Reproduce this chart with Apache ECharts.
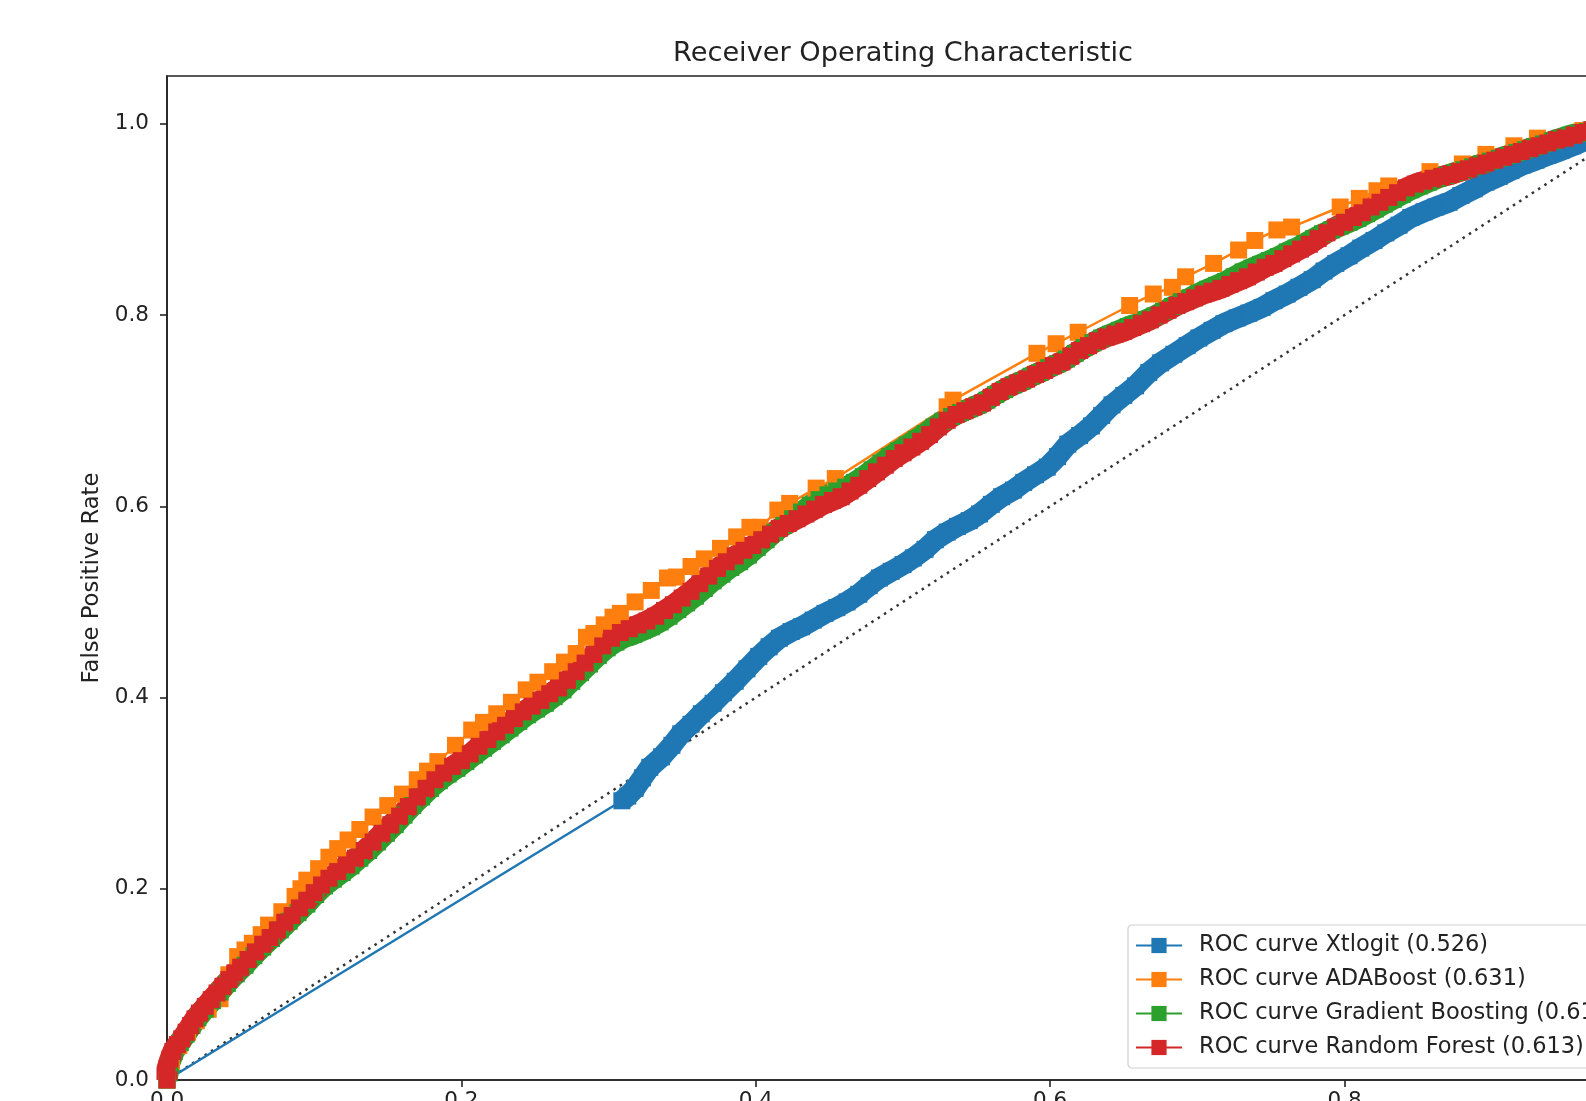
<!DOCTYPE html>
<html>
<head>
<meta charset="utf-8">
<script src="https://cdn.jsdelivr.net/npm/echarts@6/dist/echarts.min.js"></script>
<style>
  html, body { margin: 0; padding: 0; overflow: hidden; background: #fff; }
  #chart { width: 1806px; height: 1200px; }
</style>
</head>
<body>
<div id="chart"></div>
<script>
// ---- data ----
const titleText = 'Receiver Operating Characteristic';
const yAxisName = 'False Positive Rate';
const xTicks = [0, 0.2, 0.4, 0.6, 0.8, 1.0];
const yTicks = [0, 0.2, 0.4, 0.6, 0.8, 1.0];
const seriesNames = [
  'ROC curve Xtlogit (0.526)',
  'ROC curve ADABoost (0.631)',
  'ROC curve Gradient Boosting (0.617)',
  'ROC curve Random Forest (0.613)'
];
const chancePoints = [[0, 0], [1, 1]];

const xtlogitPoints = [[0,0],
[0.309,0.292],[0.313,0.297],[0.318,0.305],[0.323,0.316],[0.328,0.327],[0.336,0.338],[0.343,0.350],[0.349,0.362],[0.356,0.372],[0.363,0.383],[0.371,0.394],[0.378,0.405],[0.386,0.417],[0.394,0.430],[0.402,0.443],[0.409,0.453],[0.416,0.462],[0.424,0.469],[0.431,0.474],[0.439,0.481],[0.447,0.488],[0.455,0.494],[0.462,0.500],[0.470,0.508],[0.477,0.517],[0.484,0.525],[0.492,0.532],[0.500,0.539],[0.507,0.546],[0.515,0.555],[0.522,0.565],[0.530,0.573],[0.537,0.579],[0.545,0.585],[0.552,0.592],[0.560,0.602],[0.567,0.610],[0.575,0.617],[0.582,0.625],[0.590,0.633],[0.598,0.641],[0.605,0.652],[0.612,0.665],[0.620,0.674],[0.628,0.684],[0.635,0.695],[0.642,0.706],[0.650,0.716],[0.658,0.726],[0.667,0.740],[0.675,0.750],[0.684,0.759],[0.693,0.768],[0.701,0.776],[0.710,0.784],[0.718,0.791],[0.727,0.797],[0.735,0.802],[0.744,0.808],[0.752,0.815],[0.761,0.822],[0.769,0.829],[0.778,0.837],[0.786,0.846],[0.794,0.854],[0.803,0.862],[0.811,0.870],[0.820,0.878],[0.828,0.886],[0.837,0.894],[0.845,0.902],[0.854,0.908],[0.862,0.913],[0.871,0.918],[0.879,0.925],[0.888,0.932],[0.896,0.939],[0.905,0.945],[0.913,0.951],[0.921,0.957],[0.930,0.962],[0.938,0.967],[0.947,0.972],[0.955,0.977],[0.964,0.983],[0.972,0.988],[0.981,0.992],[0.990,0.996],[1.0,1.0]];

const adaBoostPoints = [[0,0],[0.003,0.02],[0.008,0.036],[0.014,0.05],[0.02,0.062],[0.028,0.074],[0.036,0.085],[0.042,0.11],[0.048,0.129],[0.053,0.136],[0.058,0.143],[0.064,0.152],[0.069,0.162],[0.078,0.176],[0.087,0.192],[0.091,0.200],[0.095,0.209],[0.103,0.221],[0.110,0.233],[0.116,0.242],[0.123,0.251],[0.131,0.262],[0.140,0.275],[0.150,0.287],[0.160,0.299],[0.170,0.314],[0.177,0.323],[0.184,0.333],[0.196,0.350],[0.207,0.366],[0.215,0.374],[0.224,0.383],[0.234,0.395],[0.244,0.408],[0.252,0.416],[0.262,0.427],[0.270,0.437],[0.278,0.446],[0.285,0.463],[0.290,0.467],[0.297,0.476],[0.303,0.484],[0.308,0.488],[0.318,0.500],[0.329,0.512],[0.340,0.525],[0.346,0.526],[0.356,0.537],[0.365,0.545],[0.376,0.556],[0.387,0.568],[0.396,0.578],[0.403,0.578],[0.415,0.596],[0.423,0.603],[0.441,0.619],[0.454,0.629],[0.530,0.704],[0.534,0.711],[0.591,0.760],[0.604,0.770],[0.619,0.782],[0.654,0.810],[0.670,0.822],[0.683,0.829],[0.692,0.840],[0.711,0.854],[0.728,0.868],[0.739,0.878],[0.754,0.889],[0.764,0.892],[0.797,0.913],[0.810,0.922],[0.822,0.930],[0.830,0.935],[0.858,0.950],[0.880,0.958],[0.896,0.968],[0.915,0.977],[0.931,0.985],[0.962,0.993],[1,1]];

const gradBoostPoints = [[0,0],[0.002,0.018],[0.005,0.030],[0.009,0.039],[0.013,0.048],[0.017,0.057],[0.021,0.065],[0.026,0.074],[0.031,0.083],[0.036,0.092],[0.041,0.101],[0.047,0.111],[0.053,0.120],[0.059,0.130],[0.065,0.139],[0.071,0.148],[0.077,0.157],[0.083,0.166],[0.089,0.175],[0.095,0.184],[0.101,0.194],[0.107,0.203],[0.113,0.210],[0.119,0.217],[0.125,0.224],[0.131,0.232],[0.137,0.240],[0.143,0.249],[0.149,0.258],[0.155,0.267],[0.161,0.277],[0.167,0.287],[0.173,0.296],[0.179,0.305],[0.185,0.313],[0.191,0.320],[0.197,0.326],[0.203,0.333],[0.209,0.340],[0.215,0.347],[0.221,0.354],[0.227,0.361],[0.233,0.368],[0.239,0.375],[0.245,0.382],[0.251,0.388],[0.257,0.394],[0.263,0.401],[0.269,0.408],[0.275,0.417],[0.281,0.426],[0.287,0.435],[0.293,0.444],[0.299,0.452],[0.305,0.458],[0.311,0.463],[0.317,0.466],[0.323,0.470],[0.329,0.474],[0.335,0.479],[0.341,0.485],[0.347,0.492],[0.353,0.499],[0.359,0.506],[0.365,0.514],[0.371,0.522],[0.377,0.529],[0.383,0.536],[0.389,0.542],[0.395,0.549],[0.401,0.557],[0.407,0.565],[0.413,0.573],[0.419,0.580],[0.425,0.587],[0.431,0.594],[0.437,0.601],[0.443,0.607],[0.449,0.612],[0.455,0.616],[0.461,0.620],[0.467,0.625],[0.473,0.631],[0.479,0.638],[0.485,0.645],[0.491,0.652],[0.497,0.658],[0.503,0.664],[0.509,0.670],[0.515,0.676],[0.521,0.683],[0.527,0.689],[0.533,0.694],[0.539,0.698],[0.545,0.702],[0.551,0.706],[0.557,0.711],[0.563,0.717],[0.569,0.722],[0.575,0.727],[0.581,0.731],[0.587,0.736],[0.593,0.740],[0.599,0.745],[0.605,0.749],[0.611,0.754],[0.617,0.760],[0.623,0.766],[0.629,0.771],[0.635,0.776],[0.641,0.780],[0.647,0.784],[0.653,0.788],[0.659,0.791],[0.665,0.795],[0.671,0.799],[0.677,0.804],[0.683,0.809],[0.689,0.814],[0.695,0.818],[0.701,0.823],[0.707,0.827],[0.713,0.831],[0.719,0.835],[0.725,0.840],[0.731,0.845],[0.737,0.849],[0.743,0.853],[0.749,0.857],[0.755,0.861],[0.761,0.866],[0.767,0.870],[0.773,0.875],[0.779,0.880],[0.785,0.885],[0.791,0.889],[0.797,0.893],[0.803,0.897],[0.809,0.901],[0.815,0.906],[0.821,0.911],[0.827,0.916],[0.833,0.921],[0.839,0.926],[0.845,0.931],[0.851,0.935],[0.857,0.939],[0.863,0.943],[0.869,0.946],[0.875,0.949],[0.881,0.952],[0.887,0.955],[0.893,0.958],[0.899,0.961],[0.905,0.964],[0.911,0.967],[0.917,0.970],[0.923,0.973],[0.929,0.976],[0.935,0.979],[0.941,0.982],[0.947,0.985],[0.953,0.988],[0.959,0.990],[0.965,0.992],[0.971,0.994],[0.977,0.996],[0.985,0.998],[0.993,0.999],[1,1]];

const randForestPoints = [[0,0],[0,0.012],[0.002,0.022],[0.004,0.030],[0.007,0.037],[0.010,0.043],[0.013,0.050],[0.016,0.057],[0.019,0.064],[0.022,0.070],[0.026,0.077],[0.030,0.084],[0.034,0.091],[0.038,0.098],[0.042,0.105],[0.046,0.112],[0.050,0.118],[0.055,0.126],[0.060,0.134],[0.065,0.142],[0.070,0.149],[0.075,0.157],[0.080,0.165],[0.085,0.172],[0.090,0.180],[0.095,0.188],[0.100,0.196],[0.105,0.204],[0.110,0.211],[0.116,0.218],[0.122,0.225],[0.128,0.232],[0.134,0.240],[0.140,0.249],[0.146,0.258],[0.152,0.267],[0.158,0.276],[0.164,0.286],[0.170,0.296],[0.176,0.305],[0.182,0.314],[0.188,0.321],[0.194,0.328],[0.200,0.334],[0.206,0.341],[0.212,0.349],[0.218,0.356],[0.224,0.364],[0.230,0.371],[0.236,0.378],[0.242,0.385],[0.248,0.391],[0.254,0.397],[0.260,0.404],[0.266,0.410],[0.272,0.418],[0.278,0.427],[0.284,0.436],[0.290,0.445],[0.296,0.454],[0.302,0.462],[0.308,0.468],[0.314,0.472],[0.320,0.476],[0.326,0.480],[0.332,0.485],[0.338,0.491],[0.344,0.497],[0.350,0.504],[0.356,0.511],[0.362,0.519],[0.368,0.527],[0.374,0.535],[0.380,0.542],[0.386,0.548],[0.392,0.554],[0.398,0.559],[0.404,0.565],[0.410,0.571],[0.416,0.577],[0.422,0.582],[0.428,0.587],[0.434,0.592],[0.440,0.597],[0.446,0.602],[0.452,0.606],[0.458,0.610],[0.464,0.616],[0.470,0.622],[0.476,0.629],[0.482,0.636],[0.488,0.643],[0.494,0.650],[0.500,0.656],[0.506,0.662],[0.512,0.668],[0.518,0.675],[0.524,0.683],[0.530,0.690],[0.536,0.696],[0.542,0.700],[0.548,0.704],[0.554,0.708],[0.560,0.714],[0.566,0.720],[0.572,0.725],[0.578,0.729],[0.584,0.733],[0.590,0.738],[0.596,0.742],[0.602,0.747],[0.608,0.751],[0.614,0.757],[0.620,0.763],[0.626,0.768],[0.632,0.773],[0.638,0.777],[0.644,0.780],[0.650,0.783],[0.656,0.787],[0.662,0.791],[0.668,0.795],[0.674,0.800],[0.680,0.805],[0.686,0.810],[0.692,0.814],[0.698,0.818],[0.704,0.822],[0.710,0.825],[0.716,0.828],[0.722,0.832],[0.728,0.836],[0.734,0.840],[0.740,0.845],[0.746,0.850],[0.752,0.854],[0.758,0.859],[0.764,0.864],[0.770,0.869],[0.776,0.874],[0.782,0.880],[0.788,0.886],[0.794,0.892],[0.800,0.897],[0.806,0.902],[0.812,0.907],[0.818,0.913],[0.824,0.918],[0.830,0.923],[0.836,0.928],[0.842,0.933],[0.848,0.937],[0.854,0.940],[0.860,0.943],[0.866,0.945],[0.872,0.947],[0.878,0.950],[0.884,0.953],[0.890,0.956],[0.896,0.959],[0.902,0.962],[0.908,0.965],[0.914,0.968],[0.920,0.971],[0.926,0.974],[0.932,0.977],[0.938,0.980],[0.944,0.983],[0.950,0.985],[0.956,0.988],[0.962,0.991],[0.968,0.993],[0.974,0.995],[0.980,0.997],[0.990,0.999],[1,1]];

// ---- chart ----
const FONT = 'DejaVu Sans';
const colors = ['#1f77b4', '#ff7f0e', '#2ca02c', '#d62728'];
const pointSets = [xtlogitPoints, adaBoostPoints, gradBoostPoints, randForestPoints];
// which curves have dense threshold points (drawn as a continuous marker band)
const denseBand = [true, false, true, true];

const chart = echarts.init(document.getElementById('chart'), null, { renderer: 'canvas' });

const MARK = 17;
const seriesList = [{
  name: 'chance',
  type: 'line',
  data: chancePoints,
  symbol: 'none',
  lineStyle: { color: '#333', width: 2.5, type: [2.5, 5] },
  emphasis: { disabled: true },
  animation: false,
  silent: true
}];

seriesNames.forEach((name, i) => {
  if (denseBand[i]) {
    // the first point of Xtlogit is joined by a thin line only, so the band starts after it
    const bandData = i === 0 ? pointSets[i].slice(1) : pointSets[i];
    seriesList.push({
      name: name + ' band',
      type: 'line',
      data: bandData,
      symbol: 'none',
      lineStyle: { color: colors[i], width: 21, cap: 'butt', join: 'round' },
      emphasis: { disabled: true },
      animation: false,
      silent: true
    });
  }
  seriesList.push({
    name: name,
    type: 'line',
    data: pointSets[i],
    symbol: 'rect',
    symbolSize: MARK,
    showAllSymbol: true,
    showSymbol: true,
    color: colors[i],
    itemStyle: { color: colors[i] },
    lineStyle: { color: colors[i], width: 2.5 },
    emphasis: { disabled: true },
    animation: false
  });
});

const option = {
  animation: false,
  backgroundColor: '#fff',
  textStyle: { fontFamily: FONT },
  title: {
    text: titleText,
    left: 'center',
    top: 39,
    padding: 0,
    textStyle: { fontFamily: FONT, fontSize: 27.2, fontWeight: 'normal', color: '#222', lineHeight: 30 }
  },
  grid: {
    left: 167, right: 167, top: 76, height: 1004,
    show: true, borderColor: '#222', borderWidth: 1.6, backgroundColor: 'transparent'
  },
  legend: {
    data: seriesNames,
    orient: 'vertical',
    left: 1128,
    top: 925,
    padding: [8, 10, 8, 7],
    itemWidth: 46,
    itemHeight: 19,
    itemGap: 9,
    backgroundColor: 'rgba(255,255,255,0.8)',
    borderColor: '#d0d0d0',
    borderWidth: 1.2,
    borderRadius: 4,
    textStyle: { fontFamily: FONT, fontSize: 22.5, color: '#222', lineHeight: 25, padding: [0, 0, 0, 12] }
  },
  xAxis: {
    type: 'value', min: 0, max: 1,
    axisLine: { show: true, lineStyle: { color: '#222', width: 1.6 } },
    axisTick: { show: true, length: 7, lineStyle: { color: '#222', width: 1.6 }, customValues: xTicks },
    axisLabel: { show: true, customValues: xTicks, margin: 10, fontFamily: FONT, fontSize: 21.5, color: '#222',
                 formatter: v => v.toFixed(1) },
    splitLine: { show: false }
  },
  yAxis: {
    type: 'value', min: 0, max: 1.05,
    name: yAxisName, nameLocation: 'middle', nameRotate: 90, nameGap: 63,
    nameTextStyle: { fontFamily: FONT, fontSize: 22.7, color: '#222' },
    axisLine: { show: true, lineStyle: { color: '#222', width: 1.6 } },
    axisTick: { show: true, length: 7, lineStyle: { color: '#222', width: 1.6 }, customValues: yTicks },
    axisLabel: { show: true, customValues: yTicks, margin: 18, fontFamily: FONT, fontSize: 21.5, color: '#222',
                 formatter: v => v.toFixed(1) },
    splitLine: { show: false }
  },
  series: seriesList
};

chart.setOption(option);
</script>
</body>
</html>
